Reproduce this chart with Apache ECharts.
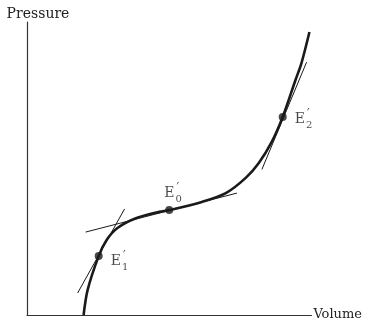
<!DOCTYPE html>
<html>
<head>
<meta charset="utf-8">
<script src="https://cdn.jsdelivr.net/npm/echarts@6/dist/echarts.min.js"></script>
<style>
  html, body { margin: 0; padding: 0; background: #fff; }
  #chart { width: 365px; height: 323px; }
</style>
</head>
<body>
<div id="chart"></div>
<script>
// Pressure–volume isotherm (arbitrary units, 0–100 on both axes)
var curveVolume   = [19.9, 21.3, 25.2, 28.0, 31.8, 38.5, 46.5, 50.0, 61.5, 69.9, 76.9, 81.5, 86.0, 89.9, 94.4, 96.5, 99.3];
var curvePressure = [0.0,  8.5, 20.1, 25.6, 29.7, 33.1, 35.2, 35.8, 38.6, 41.6, 46.8, 51.9, 59.0, 67.6, 80.2, 86.0, 96.6];

// Marked states on the curve
var pointNames    = ['1', '0', '2'];
var pointVolume   = [25.2, 50.0, 89.9];
var pointPressure = [20.1, 35.8, 67.6];

// Tangent segments through each marked state: [start, end] as [volume, pressure]
var tangent1 = [[17.8, 7.5], [34.3, 36.2]];
var tangent0 = [[20.6, 28.3], [73.8, 41.6]];
var tangent2 = [[82.6, 49.7], [98.3, 86.3]];

var axisName = { x: 'Volume', y: 'Pressure' };

var ink = '#1a1a1a';
var serif = "'DejaVu Serif', 'Liberation Serif', serif";

var curveData = curveVolume.map(function (v, i) { return [v, curvePressure[i]]; });
var pointData = pointVolume.map(function (v, i) { return [v, pointPressure[i], pointNames[i]]; });

var labelRich = {
  e: { fontFamily: serif, fontSize: 14, color: ink },
  s: { fontFamily: serif, fontSize: 10, color: ink, verticalAlign: 'bottom', width: 0, padding: [0, 0, -4, 1] },
  p: { fontFamily: serif, fontSize: 12, color: ink, verticalAlign: 'top', padding: [-3, 0, 0, 1] }
};

function tangentSeries(seg) {
  return {
    type: 'line',
    data: seg,
    symbol: 'none',
    silent: true,
    lineStyle: { color: ink, width: 1 },
    z: 2
  };
}

var chart = echarts.init(document.getElementById('chart'));
chart.setOption({
  animation: false,
  backgroundColor: '#fff',
  grid: { left: 27, right: 52, top: 22, bottom: 8 },
  xAxis: {
    type: 'value', min: 0, max: 100,
    name: axisName.x, nameLocation: 'end', nameGap: 2,
    nameTextStyle: { fontFamily: serif, fontSize: 13, color: '#222', verticalAlign: 'middle', padding: [0, 0, 5, 0] },
    axisLine: { lineStyle: { color: '#333', width: 1.2 } },
    axisTick: { show: false }, axisLabel: { show: false }, splitLine: { show: false }
  },
  yAxis: {
    type: 'value', min: 0, max: 100,
    name: axisName.y, nameLocation: 'end', nameGap: 1,
    nameTextStyle: { fontFamily: serif, fontSize: 14, color: '#222', align: 'center', padding: [0, 0, 0, 22] },
    axisLine: { lineStyle: { color: '#333', width: 1.2 } },
    axisTick: { show: false }, axisLabel: { show: false }, splitLine: { show: false }
  },
  series: [
    tangentSeries(tangent1),
    tangentSeries(tangent0),
    tangentSeries(tangent2),
    {
      type: 'line',
      data: curveData,
      symbol: 'none',
      smooth: 0.3,
      lineStyle: { color: ink, width: 2.6 },
      z: 3
    },
    {
      type: 'scatter',
      data: pointData,
      symbolSize: 8,
      itemStyle: { color: ink },
      z: 4,
      label: {
        show: true,
        formatter: function (p) { return '{e|E}{s|' + p.data[2] + '}{p|′}'; },
        rich: labelRich,
        position: 'right',
        distance: 8
      },
      labelLayout: function (params) {
        if (params.dataIndex === 1) {
          return { x: params.rect.x - 1, y: params.rect.y - 20, align: 'left', verticalAlign: 'top' };
        }
        if (params.dataIndex === 0) {
          return { dy: 5 };
        }
        return { dy: 2 };
      }
    }
  ]
});
</script>
</body>
</html>
